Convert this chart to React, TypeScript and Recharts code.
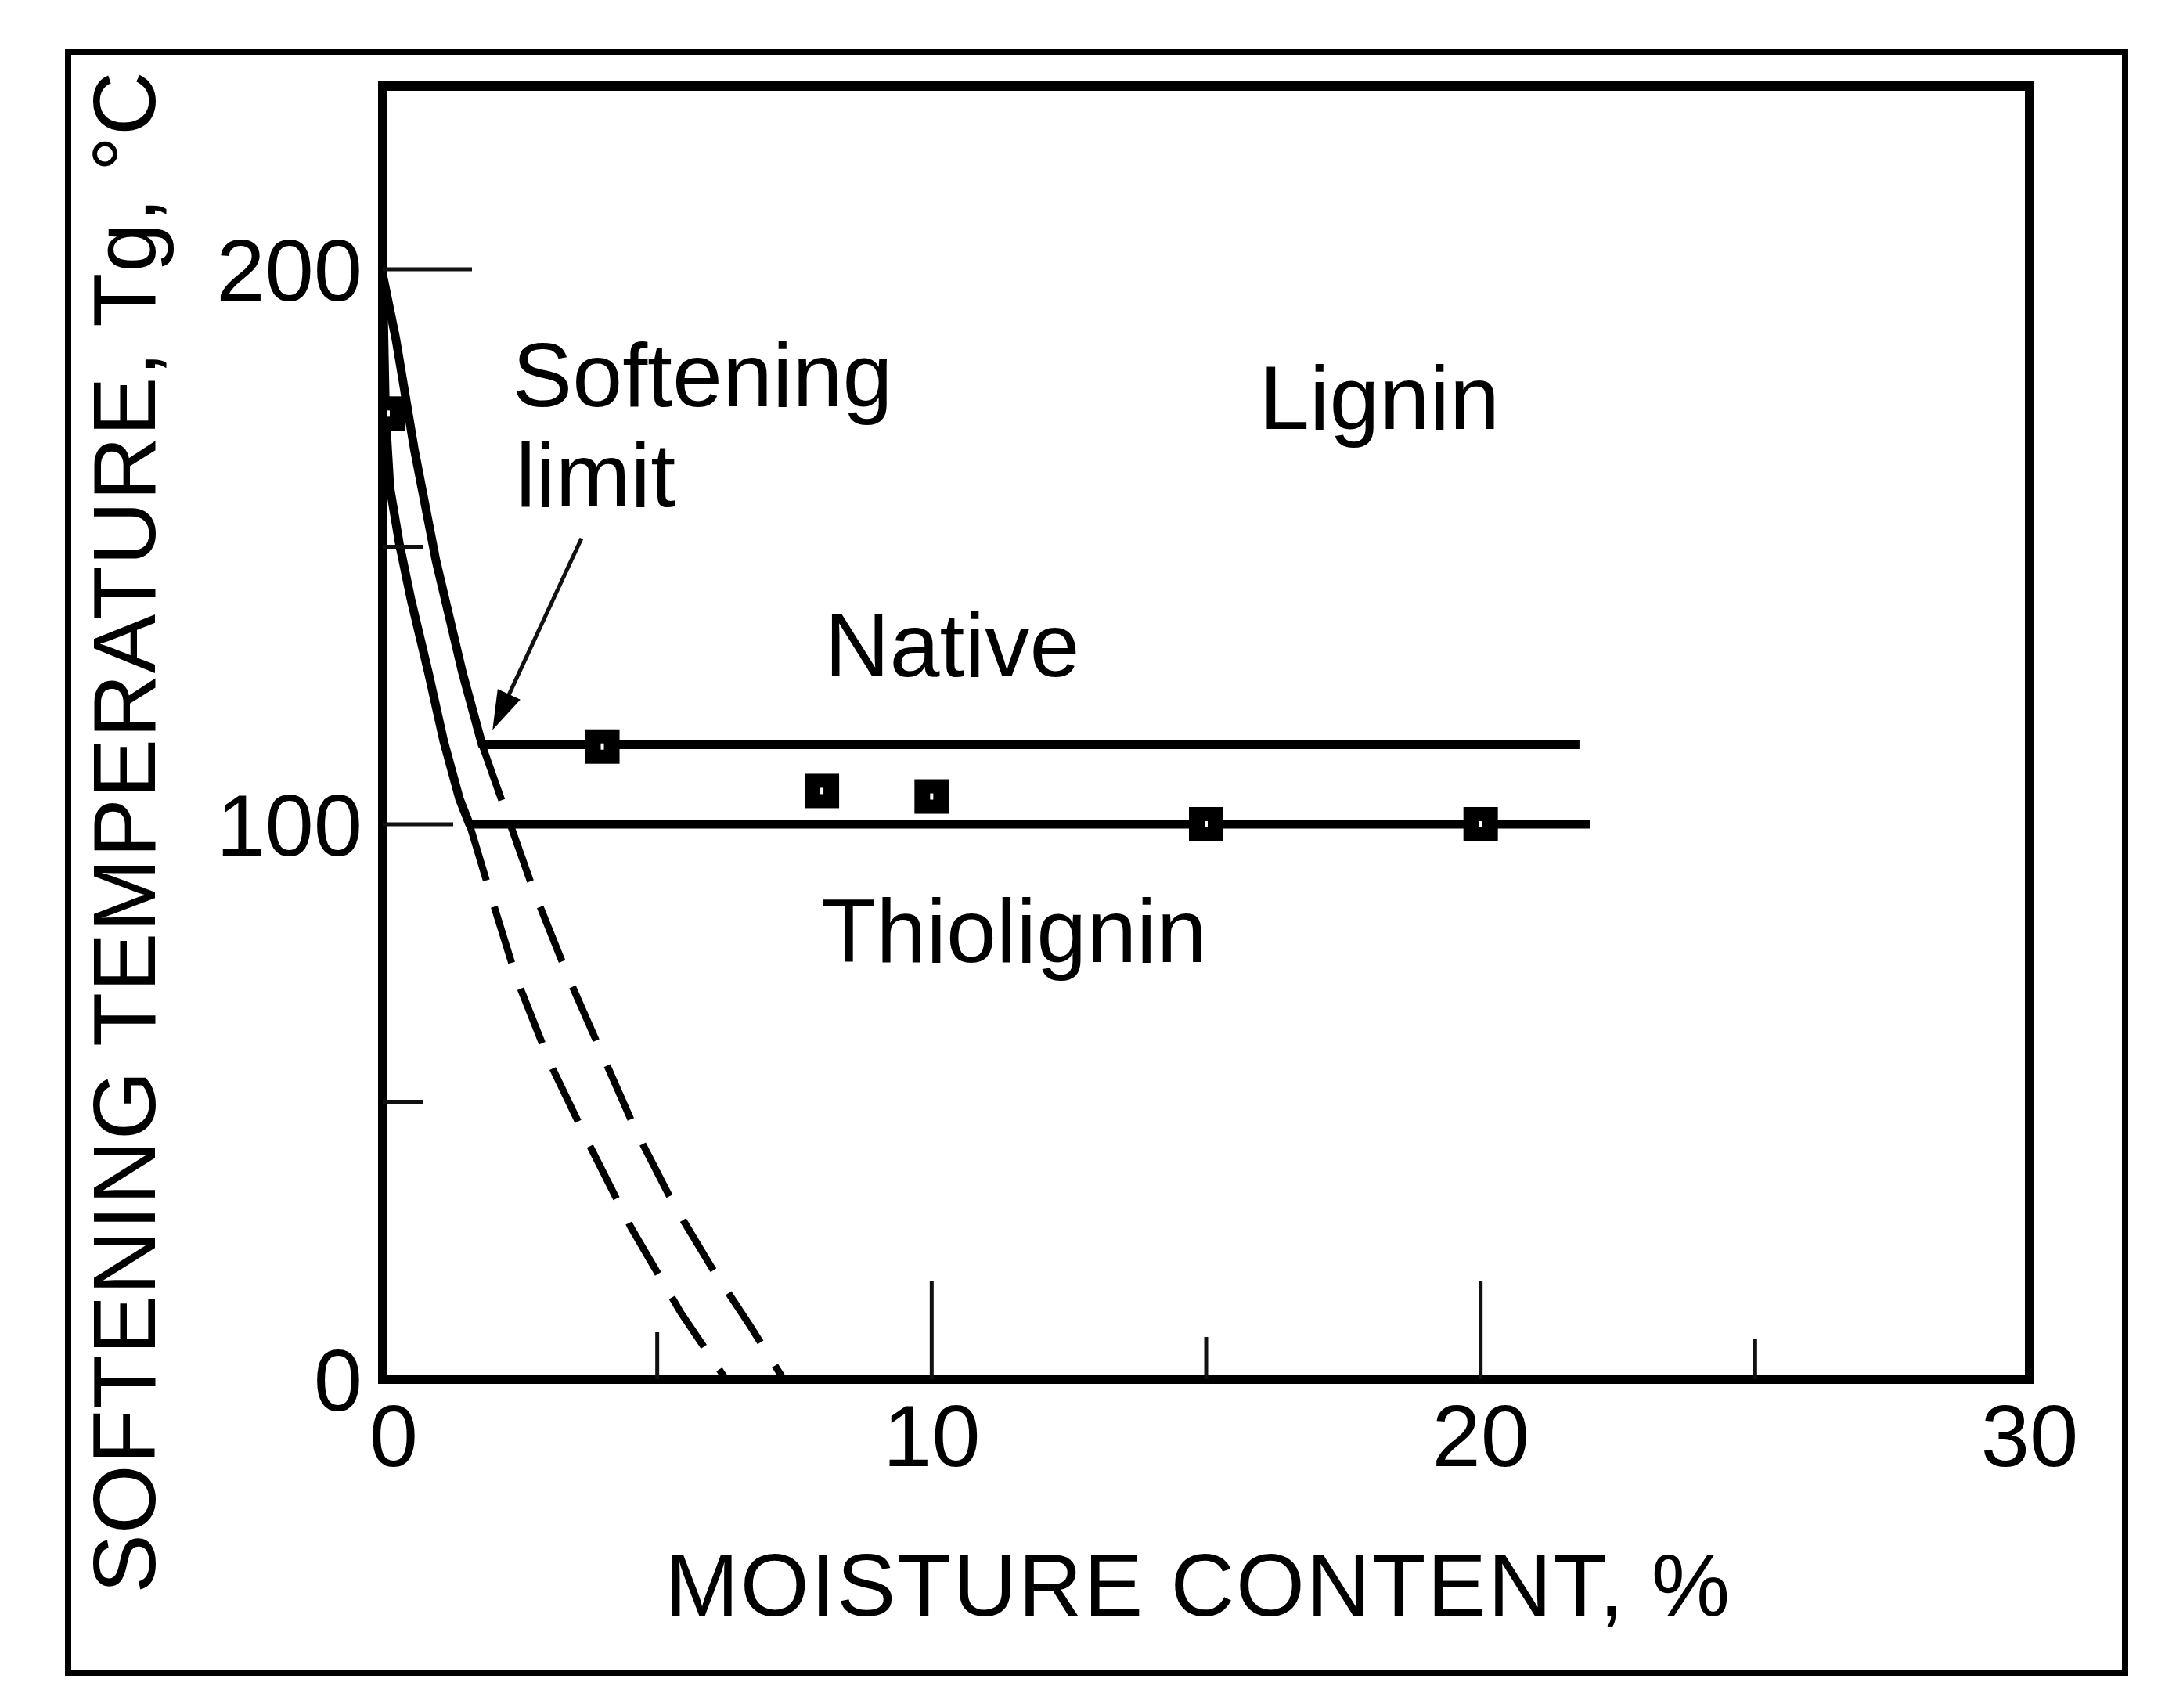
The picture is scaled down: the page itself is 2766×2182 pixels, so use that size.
import { ComposedChart, Line, Scatter, XAxis, YAxis, ReferenceArea, ReferenceLine } from "recharts"

// softening temperature vs moisture content
const nativeX = [0, 0.24, 0.58, 0.97, 1.45, 1.81, 21.8]
const nativeY = [199, 187.4, 167.3, 147.5, 127.4, 114.3, 114.3]

const thioX = [0, 0.05, 0.13, 0.3, 0.51, 0.83, 1.11, 1.4, 1.58, 22]
const thioY = [199, 174, 160.7, 150.7, 140.7, 127.4, 115, 104.5, 100, 100]

// dashed extrapolations below the softening limit
const nativeLimitX = [1.81, 2.25, 2.75, 3.4, 4.0, 4.6, 5.3, 6.0, 6.7, 7.3]
const nativeLimitY = [114.3, 102, 88, 72, 58.5, 45, 31.5, 20, 9.5, 0]

const thioLimitX = [1.58, 2.01, 2.44, 3.05, 3.76, 4.53, 5.43, 6.25]
const thioLimitY = [100, 85.8, 72.1, 56.9, 42.3, 27.2, 12, 0]

// measured points
const markerX = [0.1, 4, 8, 10, 15, 20]
const markerY = [174, 114, 106, 105, 100, 100]

const xTicks = [0, 5, 10, 15, 20, 25, 30]
const xTickLabels = ["0", "", "10", "", "20", "", "30"]
const yTicks = [0, 50, 100, 150, 200]
const yTickLabels = ["0", "", "100", "", "200"]

const annotationText = ["Softening", "limit", "Lignin", "Native", "Thiolignin"]
const annotationX = [2.36, 2.42, 15.97, 8.05, 7.99]
const annotationY = [175.3, 157.3, 171.2, 126.7, 75.2]

const arrowFrom = { x: 3.62, y: 151.5 }
const arrowTo = { x: 2.0, y: 117 }

const zip = (xs: number[], ys: number[]) => xs.map((x, i) => ({ x, y: ys[i] }))

const nativeData = zip(nativeX, nativeY)
const thioData = zip(thioX, thioY)
const nativeLimitData = zip(nativeLimitX, nativeLimitY)
const thioLimitData = zip(thioLimitX, thioLimitY)
const markerData = zip(markerX, markerY)
const annotationData = annotationText.map((text, i) => ({ x: annotationX[i], y: annotationY[i], text }))

const FONT = '"Liberation Sans", Arial, Helvetica, sans-serif'
const xTickLen: Record<number, number> = { 5: 60, 10: 126, 15: 54, 20: 126, 25: 52 }
const yTickLen: Record<number, number> = { 50: 52, 100: 90, 150: 52, 200: 114 }
const Y_MARGIN = 26

function XTick(props: any) {
  const { x, y, payload } = props
  const v = payload.value
  const label = xTickLabels[xTicks.indexOf(v)]
  const len = xTickLen[v] || 0
  return (
    <g>
      {len > 0 && <line x1={x} x2={x} y1={y} y2={y - len} stroke="#111" strokeWidth={5} />}
      {label && (
        <text x={v === 0 ? x + 14 : x} y={y + 111} textAnchor="middle" fontSize={112} fontFamily={FONT} fill="#000">
          {label}
        </text>
      )}
    </g>
  )
}

function YTick(props: any) {
  const { x, y, payload } = props
  const v = payload.value
  const label = yTickLabels[yTicks.indexOf(v)]
  const len = yTickLen[v] || 0
  const axisX = x + Y_MARGIN
  return (
    <g>
      {len > 0 && <line x1={axisX} x2={axisX + len} y1={y} y2={y} stroke="#111" strokeWidth={5} />}
      {label && (
        <text x={x} y={y + 40} textAnchor="end" fontSize={112} fontFamily={FONT} fill="#000">
          {label}
        </text>
      )}
    </g>
  )
}

function XTitle(props: any) {
  const vb = props.viewBox
  return (
    <text x={vb.x + vb.width / 2 - 10} y={vb.y + 302} textAnchor="middle" fontSize={113} letterSpacing={2} fontFamily={FONT} fill="#000">
      MOISTURE CONTENT, %
    </text>
  )
}

function YTitle(props: any) {
  const vb = props.viewBox
  const x = vb.x - 191
  const y = vb.y + vb.height / 2 + 127
  return (
    <text x={x} y={y} transform={`rotate(-90, ${x}, ${y})`} textAnchor="middle" fontSize={113} letterSpacing={1} fontFamily={FONT} fill="#000">
      SOFTENING TEMPERATURE, Tg, °C
    </text>
  )
}

function Square(props: any) {
  const { cx, cy } = props
  return (
    <g>
      <rect x={cx - 22} y={cy - 22} width={44} height={44} fill="#000" />
      <rect x={cx - 2} y={cy - 4} width={4} height={8} fill="#fff" />
    </g>
  )
}

function Note(props: any) {
  const { cx, cy, payload } = props
  return (
    <text x={cx} y={cy} fontSize={115} fontFamily={FONT} fill="#000">
      {payload.text}
    </text>
  )
}

function Arrow(props: any) {
  const { x1, y1, x2, y2 } = props
  const ang = Math.atan2(y2 - y1, x2 - x1)
  const len = 50
  const half = 16
  const bx = x2 - len * Math.cos(ang)
  const by = y2 - len * Math.sin(ang)
  const px = -Math.sin(ang) * half
  const py = Math.cos(ang) * half
  return (
    <g>
      <line x1={x1} y1={y1} x2={bx} y2={by} stroke="#111" strokeWidth={5} />
      <polygon points={`${x2},${y2} ${bx + px},${by + py} ${bx - px},${by - py}`} fill="#000" />
    </g>
  )
}

export default function App() {
  return (
    <div style={{ position: "absolute", left: 0, top: 0, width: 2766, height: 2182, background: "#fff" }}>
      <ComposedChart width={2766} height={2182} margin={{ top: 110, right: 173, bottom: 320, left: 389 }}>
        <XAxis
          type="number"
          dataKey="x"
          domain={[0, 30]}
          ticks={xTicks}
          interval={0}
          allowDataOverflow
          axisLine={false}
          tickLine={false}
          tickSize={0}
          tickMargin={0}
          height={100}
          tick={(p: any) => <XTick {...p} />}
          label={{ content: (p: any) => <XTitle {...p} /> }}
        />
        <YAxis
          type="number"
          dataKey="y"
          domain={[0, 233]}
          ticks={yTicks}
          interval={0}
          allowDataOverflow
          axisLine={false}
          tickLine={false}
          tickSize={0}
          tickMargin={Y_MARGIN}
          width={100}
          tick={(p: any) => <YTick {...p} />}
          label={{ content: (p: any) => <YTitle {...p} /> }}
        />
        <ReferenceArea x1={0} x2={30} y1={0} y2={233} fill="none" fillOpacity={0} stroke="#000" strokeWidth={12} ifOverflow="visible" />
        <Line data={nativeLimitData} dataKey="y" type="linear" stroke="#000" strokeWidth={9} strokeDasharray="75 35" dot={false} isAnimationActive={false} />
        <Line data={thioLimitData} dataKey="y" type="linear" stroke="#000" strokeWidth={9} strokeDasharray="75 35" dot={false} isAnimationActive={false} />
        <Line data={nativeData} dataKey="y" type="linear" stroke="#000" strokeWidth={11} strokeLinejoin="round" dot={false} isAnimationActive={false} />
        <Line data={thioData} dataKey="y" type="linear" stroke="#000" strokeWidth={11} strokeLinejoin="round" dot={false} isAnimationActive={false} />
        <ReferenceLine segment={[arrowFrom, arrowTo]} ifOverflow="visible" shape={(p: any) => <Arrow {...p} />} />
        <Scatter data={markerData} dataKey="y" shape={(p: any) => <Square {...p} />} isAnimationActive={false} />
        <Scatter data={annotationData} dataKey="y" shape={(p: any) => <Note {...p} />} isAnimationActive={false} />
      </ComposedChart>
      <div
        style={{
          position: "absolute",
          left: 83,
          top: 62,
          width: 2636,
          height: 2079,
          border: "8px solid #000",
          boxSizing: "border-box",
          pointerEvents: "none",
        }}
      />
    </div>
  )
}
